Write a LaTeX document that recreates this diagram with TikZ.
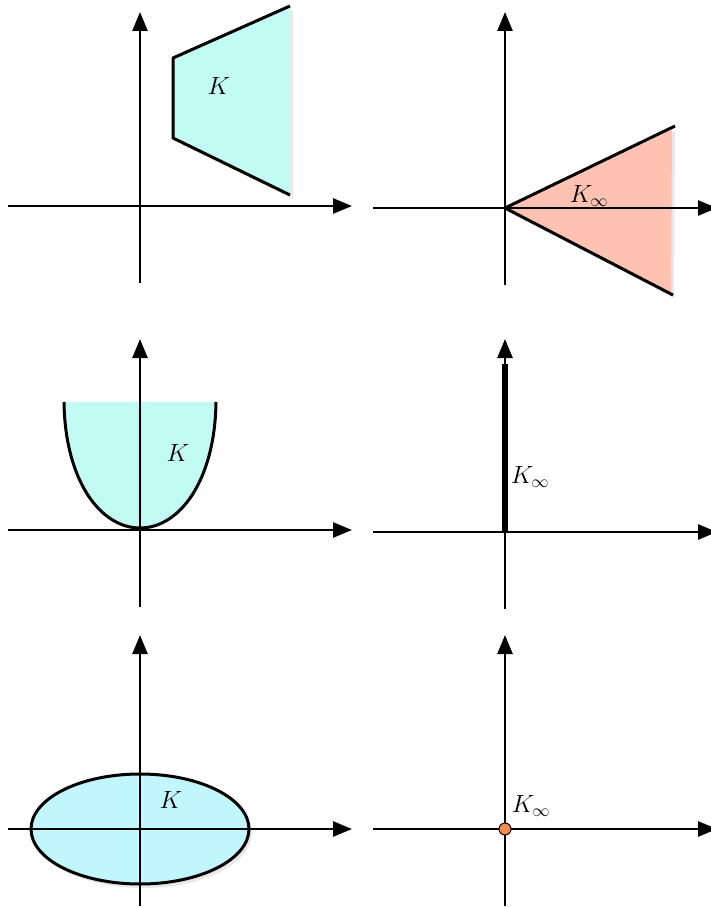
\documentclass[tikz,border=0pt]{standalone}
\usepackage{amsmath,amssymb}
\usepackage{xcolor}
\usetikzlibrary{arrows.meta,shadows}
\definecolor{inner}{HTML}{C2FAF4}
\definecolor{innerb}{HTML}{C1F6FC}
\definecolor{recess}{HTML}{FDC2B2}
\definecolor{apex}{HTML}{F58B4C}
\tikzset{axis/.style={line width=2.6pt,-{Triangle[length=19pt,width=15pt]}},
  rim/.style={line width=3pt,line join=round},
  soft/.style={drop shadow={shadow xshift=3pt,shadow yshift=-4pt,opacity=0.18}}}

\begin{document}
\begin{tikzpicture}[x=1pt,y=-1pt,font=\fontsize{23}{27}\selectfont]
      \useasboundingbox (0,0) rectangle (710,907);
      % the sets and their cones
      \fill[inner,soft] (173,58) -- (290,6) -- (290,195) -- (173,138) -- cycle;
      \draw[rim] (290,6) -- (173,58) -- (173,138) -- (290,195);
      \fill[recess,soft] (505,208) -- (672,127) -- (671,294) -- cycle;
      \draw[rim] (675,126) -- (505,208) -- (673,295);
      \fill[inner] (64,402) .. controls (65,480) and (100,528) .. (140,528)
        .. controls (180,528) and (215,480) .. (216,402) -- cycle;
      \draw[rim] (64,402) .. controls (65,480) and (100,528) .. (140,528)
        .. controls (180,528) and (215,480) .. (216,402);
      \draw[rim,fill=innerb,soft] (140,829) ellipse [x radius=109,y radius=55];
      % axes
      \foreach \n/\ox/\oy/\tip in {1/140/206/12, 2/505/208/12,
                                   3/140/530/339, 4/505/532/339,
                                   5/140/829/635, 6/505/829/635} {
        \coordinate (w\n) at (\ox-132,\oy);
        \coordinate (e\n) at (\ox+212,\oy);
        \coordinate (s\n) at (\ox,\oy+77);
        \coordinate (n\n) at (\ox,\tip);
        \draw[axis] (w\n) -- (e\n);
        \draw[axis] (s\n) -- (n\n);
      }
      \coordinate (ray) at (505,364);
      \draw[line width=5.5pt] (505,532) -- (ray);
      \node[circle,draw,fill=apex,line width=1pt,inner sep=0pt,minimum size=12pt] (pt6) at (505,829) {};
      % labels
      \node (k1) at (219,86) {$K$};
      \node (k2) at (589,196) {$K_\infty$};
      \node (k3) at (178,453) {$K$};
      \node (k4) at (530,477) {$K_\infty$};
      \node (k5) at (171,800) {$K$};
      \node (k6) at (531,806) {$K_\infty$};
    \end{tikzpicture}
\end{document}
